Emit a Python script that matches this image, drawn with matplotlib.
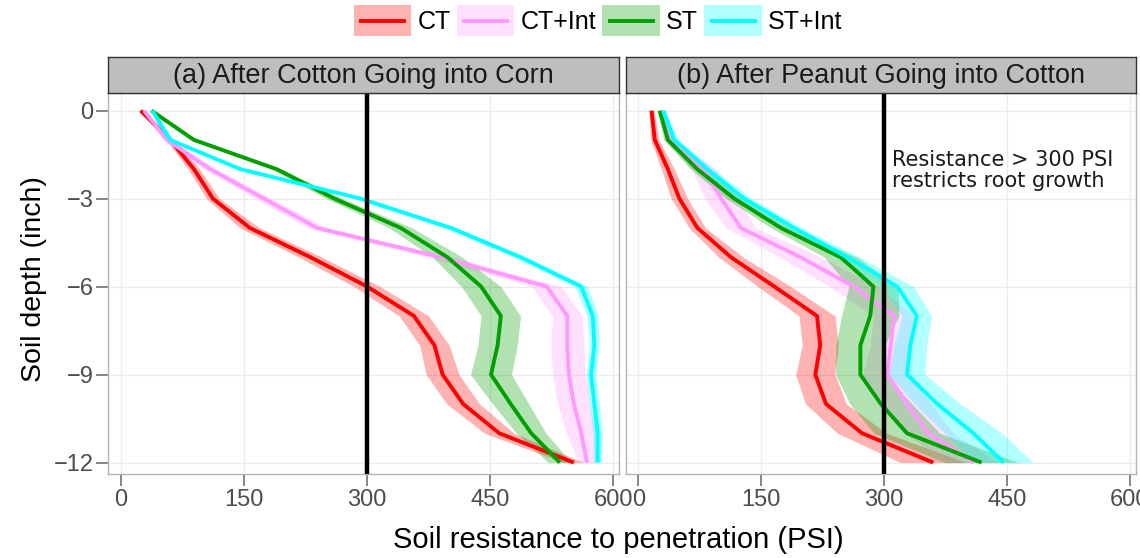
import numpy as np
import matplotlib
matplotlib.use("Agg")
import matplotlib.pyplot as plt
from matplotlib.patches import Rectangle
from matplotlib.lines import Line2D

plt.rcParams['font.family'] = ['Liberation Sans', 'DejaVu Sans']

depth = [0, -1, -2, -3, -4, -5, -6, -7, -8, -9, -10, -11, -12]
treatments = ['CT', 'CT+Int', 'ST', 'ST+Int']
panel_titles = ['(a) After Cotton Going into Corn', '(b) After Peanut Going into Cotton']

# panel a: after cotton going into corn (PSI)
a_ct = [24, 60, 89, 112, 157, 231, 300, 357, 382, 392, 417, 461, 552]
a_ct_int = [28, 56, 109, 174, 239, 390, 519, 544, 544, 546, 552, 561, 568]
a_st = [37, 89, 190, 260, 341, 398, 439, 463, 459, 451, 475, 500, 535]
a_st_int = [38, 60, 146, 292, 402, 487, 561, 575, 577, 573, 577, 581, 581]
a_ct_se = [3, 5, 7, 8, 12, 14, 16, 18, 18, 20, 20, 18, 12]
a_ct_int_se = [3, 5, 8, 10, 12, 14, 18, 18, 20, 20, 20, 18, 10]
a_st_se = [3, 4, 6, 10, 14, 18, 24, 24, 24, 25, 22, 18, 14]
a_st_int_se = [3, 3, 5, 8, 8, 8, 8, 7, 6, 6, 6, 6, 5]

# panel b: after peanut going into cotton (PSI)
b_ct = [16, 20, 36, 50, 72, 113, 166, 218, 222, 216, 229, 273, 360]
b_ct_int = [28, 38, 80, 101, 125, 198, 263, 312, 308, 304, 328, 354, 409]
b_st = [26, 36, 72, 117, 174, 247, 287, 283, 271, 271, 296, 328, 419]
b_st_int = [30, 44, 84, 129, 190, 255, 316, 340, 332, 328, 365, 409, 446]
b_ct_se = [3, 5, 8, 10, 10, 15, 20, 22, 22, 24, 25, 30, 40]
b_ct_int_se = [3, 6, 15, 20, 18, 25, 30, 25, 25, 30, 30, 30, 30]
b_st_se = [3, 5, 8, 10, 12, 20, 30, 35, 30, 30, 38, 40, 45]
b_st_int_se = [3, 5, 8, 10, 10, 15, 20, 18, 20, 22, 28, 35, 36]

panel_means = [[a_ct, a_ct_int, a_st, a_st_int], [b_ct, b_ct_int, b_st, b_st_int]]
panel_se = [[a_ct_se, a_ct_int_se, a_st_se, a_st_int_se], [b_ct_se, b_ct_int_se, b_st_se, b_st_int_se]]

line_colors = ['#FF0000', '#FF99FF', '#00A000', '#00FFFF']
threshold = 300
line_w = 2.8


class KeyHandler:
    # ggplot-like legend key: shaded box (taller than the text) with a shorter line
    def legend_artist(self, legend, orig_handle, fontsize, handlebox):
        x0, y0 = handlebox.xdescent, handlebox.ydescent
        w, h = handlebox.width, handlebox.height
        c = orig_handle.get_color()
        key_h = fontsize * 1.25
        yc = y0 + h / 2
        box = Rectangle((x0, yc - key_h / 2), w, key_h, facecolor=c, alpha=0.3, lw=0,
                        transform=handlebox.get_transform())
        inset = w * 0.09
        ln = Line2D([x0 + inset, x0 + w - inset], [yc, yc], color=c, lw=line_w,
                    solid_capstyle='butt', transform=handlebox.get_transform())
        handlebox.add_artist(box)
        handlebox.add_artist(ln)
        return box


fig = plt.figure(figsize=(11.4, 5.58), dpi=100)
ax_a = fig.add_axes([0.0950, 0.1505, 0.4482, 0.6823])
ax_b = fig.add_axes([0.5489, 0.1505, 0.4474, 0.6823])
axes = [ax_a, ax_b]

for i, ax in enumerate(axes):
    for j, name in enumerate(treatments):
        m = np.array(panel_means[i][j])
        s = np.array(panel_se[i][j])
        ax.fill_betweenx(depth, m - s, m + s, color=line_colors[j], alpha=0.3, lw=0, zorder=2)
        ax.plot(m, depth, color=line_colors[j], lw=line_w, zorder=3, solid_capstyle='butt')
    ax.axvline(threshold, color='black', lw=3.2, zorder=4)

    ax.set_xlim(-15.5, 607.3)
    ax.set_ylim(-12.39, 0.59)
    ax.set_xticks([0, 150, 300, 450, 600])
    ax.set_yticks([0, -3, -6, -9, -12])
    ax.grid(True, color='#EBEBEB', lw=1.0, zorder=0)
    ax.set_axisbelow(True)
    for sp in ax.spines.values():
        sp.set_color('#B3B3B3')
        sp.set_linewidth(1.0)
    ax.tick_params(axis='both', colors='#666666', labelcolor='#4D4D4D',
                   labelsize=17, length=8.5, width=1.1)
    ax.tick_params(axis='x', pad=2.5)
    ax.tick_params(axis='y', pad=2)

    # facet strip on top of each panel
    strip = fig.add_axes([ax.get_position().x0, 0.8328, ax.get_position().width, 0.0645])
    strip.set_xticks([])
    strip.set_yticks([])
    strip.set_facecolor('#BEBEBE')
    for sp in strip.spines.values():
        sp.set_color('#333333')
        sp.set_linewidth(1.0)
    strip.text(0.5, 0.47, panel_titles[i], ha='center', va='center', fontsize=19.5,
               color='#1A1A1A', transform=strip.transAxes)

ax_b.tick_params(axis='y', left=False, labelleft=False)

ax_b.text(310, -1.35, 'Resistance > 300 PSI\nrestricts root growth', ha='left', va='top',
          fontsize=15, family=['DejaVu Sans'], color='#1A1A1A', linespacing=1.05, zorder=5)

fig.text(0.0298, 0.5, 'Soil depth (inch)', rotation=90, ha='center', va='center', fontsize=20.5)
fig.text(0.542, 0.032, 'Soil resistance to penetration (PSI)', ha='center', va='center', fontsize=21)

handles = [Line2D([], [], color=c) for c in line_colors]
fig.legend(handles, treatments, loc='center', bbox_to_anchor=(0.5246, 1 - 22.4 / 558), ncol=4,
           frameon=False, fontsize=18, handler_map={Line2D: KeyHandler()},
           handlelength=2.3, handleheight=0.7, handletextpad=0.25, columnspacing=0.25,
           borderaxespad=0.0, borderpad=0.0)

fig.savefig('out.png', dpi=100)
